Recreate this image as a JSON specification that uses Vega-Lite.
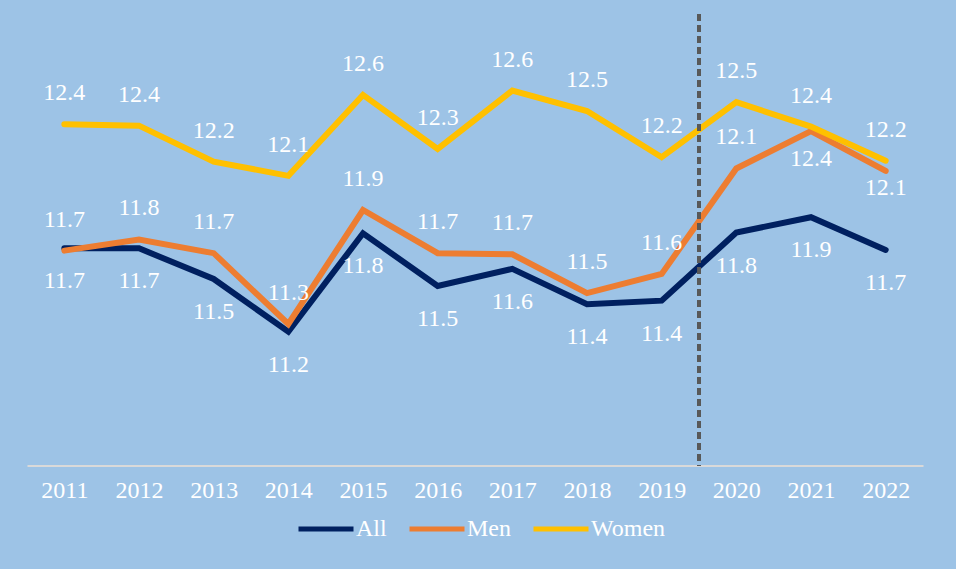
{
  "$schema": "https://vega.github.io/schema/vega-lite/v6.json",
  "width": 896,
  "height": 451.6,
  "autosize": {"type": "none"},
  "padding": {"left": 27, "top": 14, "right": 33, "bottom": 103.4},
  "background": "#9DC3E6",
  "config": {"view": {"stroke": null}, "font": "Liberation Serif"},
  "data": {
    "values": [
      {"year": 2011, "series": "All", "value": 11.703},
      {"year": 2012, "series": "All", "value": 11.703},
      {"year": 2013, "series": "All", "value": 11.533},
      {"year": 2014, "series": "All", "value": 11.241},
      {"year": 2015, "series": "All", "value": 11.786},
      {"year": 2016, "series": "All", "value": 11.494},
      {"year": 2017, "series": "All", "value": 11.589},
      {"year": 2018, "series": "All", "value": 11.393},
      {"year": 2019, "series": "All", "value": 11.413},
      {"year": 2020, "series": "All", "value": 11.79},
      {"year": 2021, "series": "All", "value": 11.875},
      {"year": 2022, "series": "All", "value": 11.694},
      {"year": 2011, "series": "Men", "value": 11.69},
      {"year": 2012, "series": "Men", "value": 11.752},
      {"year": 2013, "series": "Men", "value": 11.676},
      {"year": 2014, "series": "Men", "value": 11.284},
      {"year": 2015, "series": "Men", "value": 11.915},
      {"year": 2016, "series": "Men", "value": 11.676},
      {"year": 2017, "series": "Men", "value": 11.67},
      {"year": 2018, "series": "Men", "value": 11.455},
      {"year": 2019, "series": "Men", "value": 11.561},
      {"year": 2020, "series": "Men", "value": 12.145},
      {"year": 2021, "series": "Men", "value": 12.352},
      {"year": 2022, "series": "Men", "value": 12.131},
      {"year": 2011, "series": "Women", "value": 12.39},
      {"year": 2012, "series": "Women", "value": 12.382},
      {"year": 2013, "series": "Women", "value": 12.183},
      {"year": 2014, "series": "Women", "value": 12.104},
      {"year": 2015, "series": "Women", "value": 12.552},
      {"year": 2016, "series": "Women", "value": 12.253},
      {"year": 2017, "series": "Women", "value": 12.576},
      {"year": 2018, "series": "Women", "value": 12.463},
      {"year": 2019, "series": "Women", "value": 12.207},
      {"year": 2020, "series": "Women", "value": 12.512},
      {"year": 2021, "series": "Women", "value": 12.377},
      {"year": 2022, "series": "Women", "value": 12.188}
    ]
  },
  "encoding": {
    "x": {
      "field": "year",
      "type": "quantitative",
      "scale": {"domain": [2010.5, 2022.5], "nice": false, "zero": false},
      "axis": {
        "values": [2011, 2012, 2013, 2014, 2015, 2016, 2017, 2018, 2019, 2020, 2021, 2022],
        "format": "d",
        "title": null,
        "ticks": false,
        "grid": false,
        "domainColor": "#D9D9D9",
        "domainWidth": 2,
        "labelColor": "white",
        "labelFont": "Liberation Serif",
        "labelFontSize": 24,
        "labelPadding": 13,
        "labelFlush": false,
        "labelOverlap": false
      }
    },
    "y": {
      "field": "value",
      "type": "quantitative",
      "scale": {"domain": [10.5, 13.0], "nice": false, "zero": false},
      "axis": null
    }
  },
  "layer": [
    {
      "mark": {"type": "line", "strokeWidth": 6, "strokeCap": "round"},
      "encoding": {
        "color": {
          "field": "series",
          "type": "nominal",
          "scale": {"domain": ["All", "Men", "Women"], "range": ["#002060", "#ED7D31", "#FFC000"]},
          "legend": {
            "orient": "none",
            "legendX": 269,
            "legendY": 485,
            "direction": "horizontal",
            "title": null,
            "symbolType": "stroke",
            "symbolSize": 3025,
            "symbolStrokeWidth": 5,
            "labelColor": "white",
            "labelFont": "Liberation Serif",
            "labelFontSize": 24,
            "labelOffset": 0,
            "columnPadding": 12
          }
        },
        "order": {"field": "year"}
      }
    },
    {
      "mark": {"type": "rule", "color": "#595959", "strokeWidth": 2.5, "strokeDash": [7, 4]},
      "encoding": {"x": {"datum": 2019.5}, "y": null}
    },
    {
      "transform": [{"filter": "datum.series == 'Women'"}],
      "mark": {"type": "text", "color": "white", "font": "Liberation Serif", "fontSize": 24, "dy": -31, "baseline": "middle"},
      "encoding": {"text": {"field": "value", "type": "quantitative", "format": ".1f"}}
    },
    {
      "transform": [{"filter": "datum.series == 'All'"}],
      "mark": {"type": "text", "color": "white", "font": "Liberation Serif", "fontSize": 24, "dy": 33, "baseline": "middle"},
      "encoding": {"text": {"field": "value", "type": "quantitative", "format": ".1f"}}
    },
    {
      "transform": [{"filter": "datum.series == 'Men' && datum.year <= 2020"}],
      "mark": {"type": "text", "color": "white", "font": "Liberation Serif", "fontSize": 24, "dy": -31, "baseline": "middle"},
      "encoding": {"text": {"field": "value", "type": "quantitative", "format": ".1f"}}
    },
    {
      "transform": [{"filter": "datum.series == 'Men' && datum.year == 2021"}],
      "mark": {"type": "text", "color": "white", "font": "Liberation Serif", "fontSize": 24, "dy": 28, "baseline": "middle"},
      "encoding": {"text": {"field": "value", "type": "quantitative", "format": ".1f"}}
    },
    {
      "transform": [{"filter": "datum.series == 'Men' && datum.year == 2022"}],
      "mark": {"type": "text", "color": "white", "font": "Liberation Serif", "fontSize": 24, "dy": 17, "baseline": "middle"},
      "encoding": {"text": {"field": "value", "type": "quantitative", "format": ".1f"}}
    }
  ]
}
